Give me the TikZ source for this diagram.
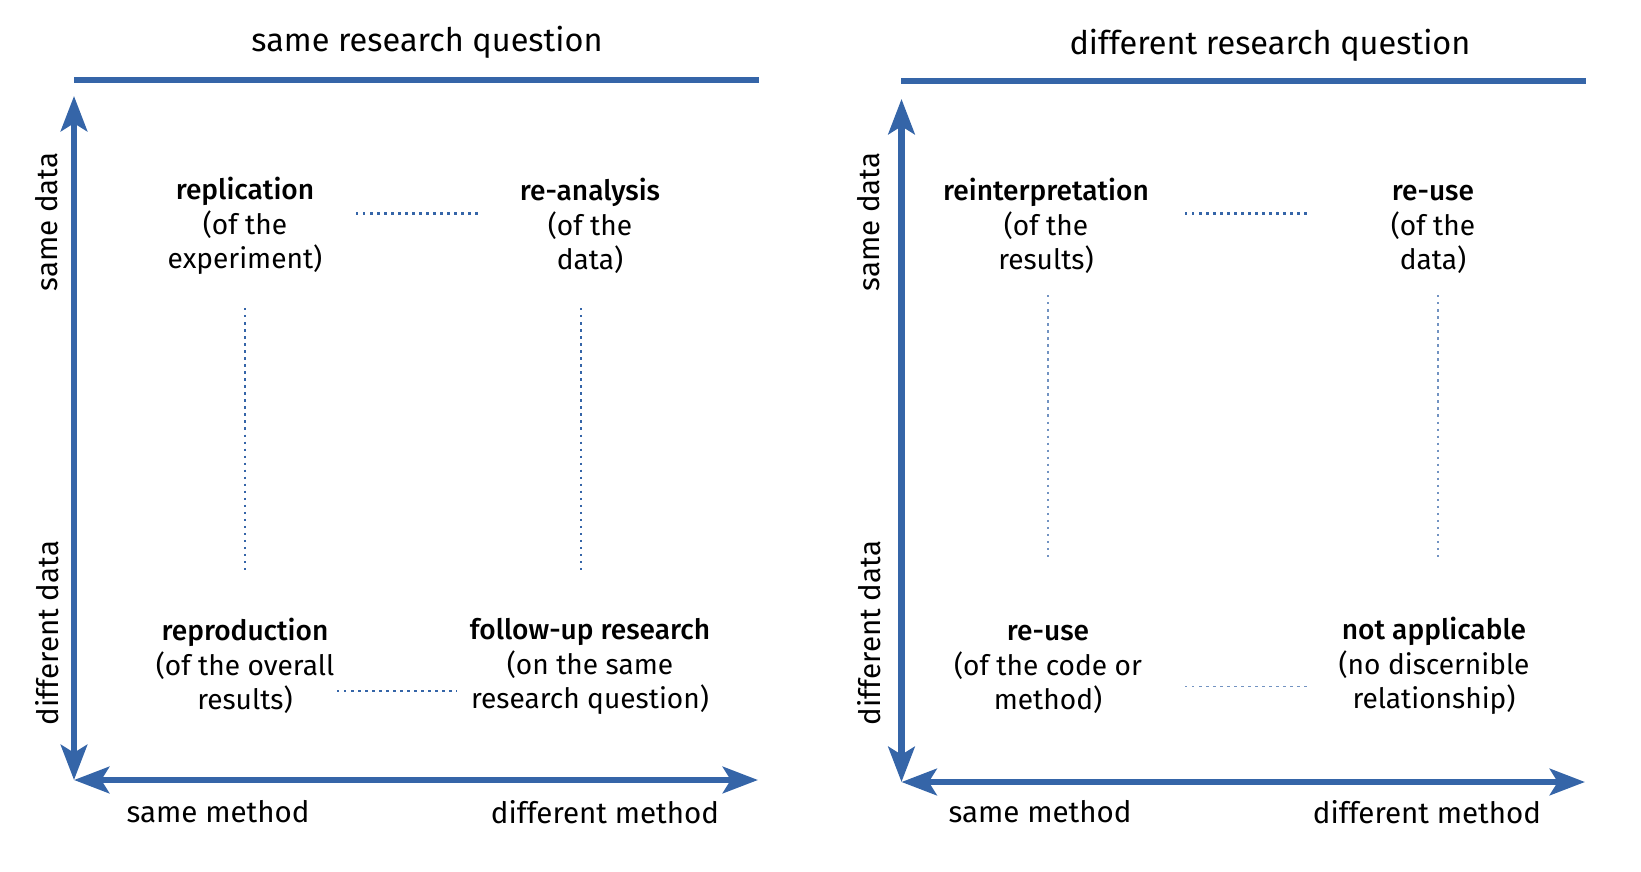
\documentclass[tikz,border=0pt]{standalone}
\usepackage{fontspec}
\setmainfont{Fira Sans}[BoldFont={Fira Sans Medium}]
\usetikzlibrary{arrows.meta,calc}
\definecolor{axblue}{HTML}{3565A8}
\newcommand{\cellhead}[1]{\textbf{\strut#1}}
\tikzset{axis/.style={{Stealth[length=20pt,width=15pt,inset=4.5pt]}-{Stealth[length=20pt,width=15pt,inset=4.5pt]},line width=3.6pt,axblue},
         rule/.style={line width=3.6pt,axblue},
         link/.style={axblue,line width=1.5pt,dash pattern=on 1.4pt off 2.6pt},
         faint/.style={link,line width=1pt,axblue!70},
         cell/.style={align=center,font=\fontsize{16}{19}\selectfont},
         lab/.style={font=\fontsize{16.8}{19}\selectfont},
         ttl/.style={font=\fontsize{18.5}{22}\selectfont}}
\begin{document}
\begin{tikzpicture}[x=0.02cm,y=-0.02cm]
  \useasboundingbox (0,0) rectangle (1641,872);
  % same research question
  \node[ttl] (ttlA) at (427,42) {same research question};
  \draw[rule] (74,80) -- (759,80);
  \coordinate (nA) at (74,96);
  \coordinate (oA) at (74,780);
  \coordinate (eA) at (758,780);
  \draw[axis] (nA) -- (oA);
  \draw[axis] (oA) -- (eA);
  \node[lab,rotate=90] (sdA) at (47,222) {same data};
  \node[lab,rotate=90] (ddA) at (47,633) {different data};
  \node[lab] (smA) at (218,812) {same method};
  \node[lab] (dmA) at (605,812) {different method};
  \node[cell] (repl) at (245,225) {\cellhead{replication}\\(of the\\experiment)};
  \node[cell] (reana) at (590,225) {\cellhead{re-analysis}\\(of the\\data)};
  \node[cell] (repr) at (245,665) {\cellhead{reproduction}\\(of the overall\\results)};
  \node[cell] (follow) at (590,665) {\cellhead{follow-up research}\\(on the same\\research question)};
  \draw[link] ($(repl.center)+(111,-11.5)$) -- ($(reana.center)+(-112,-11.5)$);
  \draw[link] ($(repl.center)+(0,83)$) -- ($(repr.center)+(0,-91)$);
  \draw[link] ($(reana.center)+(-9,83)$) -- ($(follow.center)+(-9,-91)$);
  \draw[link] ($(repr.center)+(92,26)$) -- ($(follow.center)+(-133,26)$);

  % different research question
  \node[ttl] (ttlB) at (1270,45) {different research question};
  \draw[rule] (901,81) -- (1586,81);
  \coordinate (nB) at (901.5,99);
  \coordinate (oB) at (901.5,782);
  \coordinate (eB) at (1585,782);
  \draw[axis] (nB) -- (oB);
  \draw[axis] (oB) -- (eB);
  \node[lab,rotate=90] (sdB) at (869,222) {same data};
  \node[lab,rotate=90] (ddB) at (869,633) {different data};
  \node[lab] (smB) at (1040,812) {same method};
  \node[lab] (dmB) at (1427,812) {different method};
  \node[cell] (reint) at (1046,225) {\cellhead{reinterpretation}\\(of the\\results)};
  \node[cell] (reuseD) at (1433,225) {\cellhead{re-use}\\(of the\\data)};
  \node[cell] (reuseC) at (1048,665) {\cellhead{re-use}\\(of the code or\\method)};
  \node[cell] (notap) at (1434,665) {\cellhead{not applicable}\\(no discernible\\relationship)};
  \draw[link] ($(reint.center)+(139,-11.5)$) -- ($(reuseD.center)+(-125,-11.5)$);
  \draw[faint] ($(reint.center)+(2,70)$) -- ($(reuseC.center)+(0,-103)$);
  \draw[faint] ($(reuseD.center)+(5,70)$) -- ($(notap.center)+(4,-103)$);
  \draw[faint] ($(reuseC.center)+(137,21.6)$) -- ($(notap.center)+(-126,21.6)$);
\end{tikzpicture}
\end{document}
